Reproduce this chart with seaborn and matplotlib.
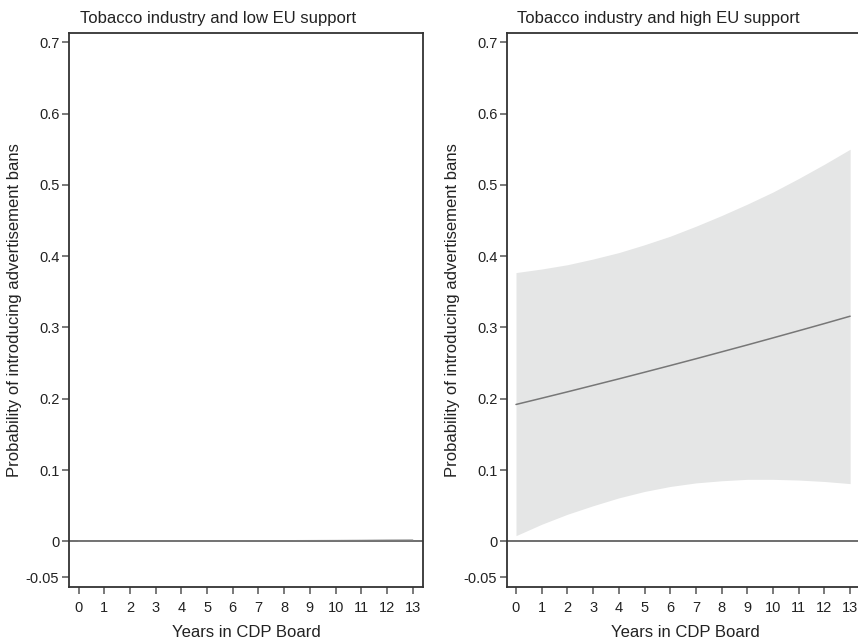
import numpy as np
import pandas as pd
import matplotlib
matplotlib.use("Agg")
import matplotlib.pyplot as plt
import matplotlib.transforms as mtransforms
import seaborn as sns

# Predicted probabilities by years in CDP Board
years = list(range(14))

low_pred = [0.0003, 0.0003, 0.0004, 0.0004, 0.0005, 0.0005, 0.0006, 0.0007, 0.0008, 0.0009, 0.0010, 0.0011, 0.0013, 0.0014]
low_upper = [0.0006, 0.0007, 0.0008, 0.0009, 0.0010, 0.0012, 0.0014, 0.0016, 0.0019, 0.0022, 0.0026, 0.0030, 0.0035, 0.0040]
low_lower = [0.0, 0.0, 0.0, 0.0, 0.0, 0.0, 0.0, 0.0, 0.0, 0.0, 0.0, 0.0, 0.0, 0.0]

high_pred = [0.1920, 0.2008, 0.2097, 0.2188, 0.2279, 0.2372, 0.2466, 0.2561, 0.2658, 0.2755, 0.2854, 0.2954, 0.3055, 0.3158]
high_upper = [0.377, 0.382, 0.388, 0.396, 0.405, 0.416, 0.428, 0.442, 0.457, 0.473, 0.490, 0.509, 0.529, 0.550]
high_lower = [0.008, 0.024, 0.038, 0.050, 0.061, 0.070, 0.077, 0.082, 0.085, 0.087, 0.087, 0.086, 0.084, 0.081]

titles = ["Tobacco industry and low EU support", "Tobacco industry and high EU support"]
ytick_vals = [-0.05, 0, 0.1, 0.2, 0.3, 0.4, 0.5, 0.6, 0.7]
ytick_labels = ["-0.05", "0", "0.1", "0.2", "0.3", "0.4", "0.5", "0.6", "0.7"]

sns.set_style("ticks")
plt.rcParams["font.family"] = ["Liberation Sans", "DejaVu Sans"]
text_color = "#222222"
spine_color = "#333333"

fig = plt.figure(figsize=(8.58, 6.41), dpi=100)
positions = [
    [69 / 858, 1 - 587 / 641, 354 / 858, 554 / 641],
    [507 / 858, 1 - 587 / 641, 356 / 858, 554 / 641],
]
xlims = [(-0.37, 13.4), (-0.35, 13.5)]
panels = [
    (low_pred, low_lower, low_upper),
    (high_pred, high_lower, high_upper),
]

for pos, xlim, title, (pred, lo, hi) in zip(positions, xlims, titles, panels):
    ax = fig.add_axes(pos)
    df = pd.DataFrame({"year": years, "pred": pred, "lo": lo, "hi": hi})
    ax.fill_between(df["year"], df["lo"], df["hi"], color="#e5e6e6", linewidth=0, zorder=1)
    ax.axhline(0, color="#6e6e6e", linewidth=1.4, zorder=2)
    sns.lineplot(data=df, x="year", y="pred", ax=ax, color="#777777",
                 linewidth=1.1, zorder=3)
    ax.set_xlim(*xlim)
    ax.set_ylim(-0.064, 0.713)
    ax.set_xticks(years)
    ax.set_xticklabels([str(y) for y in years])
    ax.set_yticks(ytick_vals)
    ax.set_yticklabels(ytick_labels)
    ax.tick_params(axis="both", direction="out", length=5, width=1.1,
                   color="#555555", labelsize=10.5, labelcolor=text_color)
    ax.tick_params(axis="y", pad=2)
    ax.tick_params(axis="x", pad=5)
    for side in ["left", "bottom", "top", "right"]:
        ax.spines[side].set_visible(True)
        ax.spines[side].set_color(spine_color)
        ax.spines[side].set_linewidth(1.3)
    ax.set_xlabel("Years in CDP Board", fontsize=12, color=text_color, labelpad=7)
    ax.set_ylabel("Probability of introducing advertisement bans", fontsize=12,
                  color=text_color, labelpad=3)
    trans = mtransforms.blended_transform_factory(ax.transData, ax.transAxes)
    ax.text(0.05, 1.012, title, transform=trans, ha="left", va="bottom",
            fontsize=12, color=text_color)

fig.savefig("out.png", dpi=100)
